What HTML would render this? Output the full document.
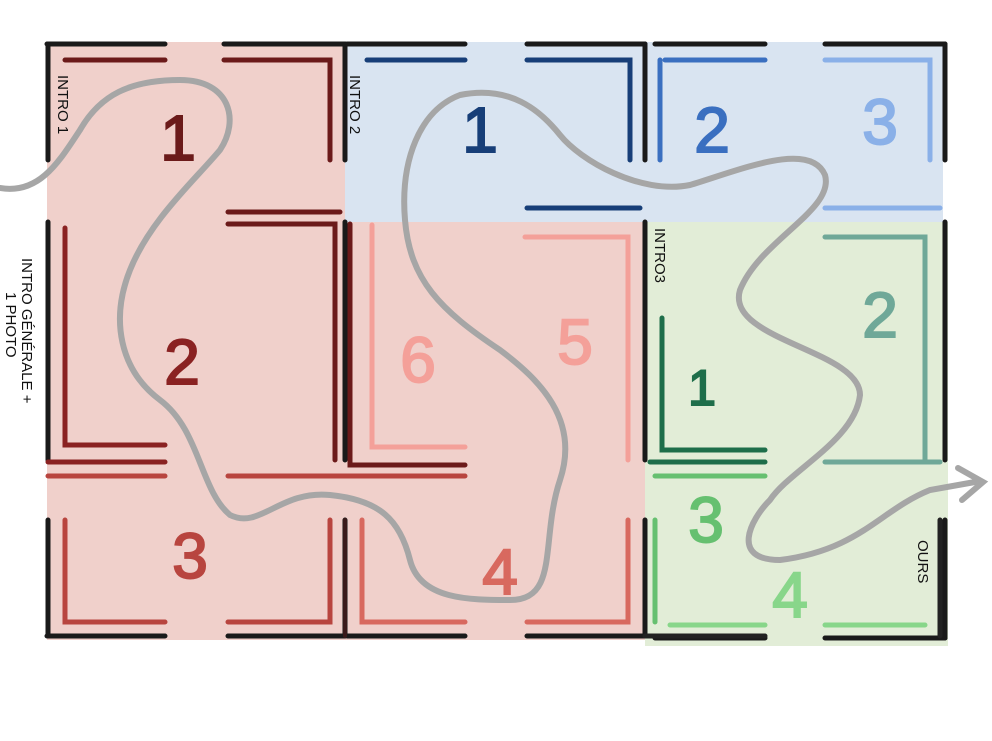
<!DOCTYPE html>
<html><head><meta charset="utf-8"><style>html,body{margin:0;padding:0;background:#fff}svg{display:block}</style></head>
<body>
<svg width="992" height="741" viewBox="0 0 992 741" xmlns="http://www.w3.org/2000/svg" font-family="Liberation Sans, sans-serif">
<rect x="47" y="42" width="298" height="598" fill="#f0d0cb"/>
<rect x="345" y="222" width="300" height="418" fill="#f0d0cb"/>
<rect x="345" y="42" width="598" height="180" fill="#d9e4f1"/>
<rect x="645" y="222" width="303" height="424" fill="#e2edd7"/>

<g stroke-linecap="round" fill="none">
<g stroke="#1a1a1a" stroke-width="5">
<path d="M47 44H165M224 44H345M347 44H465M527 44H645M655 44H765M825 44H945"/>
<path d="M47 636H165M228 636H345M347 636H465M527 636H645M655 638H765M825 638H945"/>
<path d="M48 44V160M48 222V460M48 520V636M945 44V160M945 222V460M945 520V638"/>
<path d="M345 44V160M645 44V160M645 222V460M645 520V636M345 222V460M345 520V636"/>
</g>
<g stroke="#6b1a1a" stroke-width="5">
<path d="M65 60H165M224 60H330V160"/>
<path d="M228 212H340M228 224H335V460M350 224V465H465"/>
</g>
<g stroke="#8a2222" stroke-width="5">
<path d="M65 228V445H165M48 462H165"/>
</g>
<g stroke="#b8453f" stroke-width="5">
<path d="M48 476H165M65 520V622H165M330 520V622H228M228 476H335M335 476H465"/>
</g>
<g stroke="#3a1a1a" stroke-width="4"><path d="M345 520V636"/></g>
<g stroke="#f4a099" stroke-width="5">
<path d="M372 225V447H465M525 237H628V460"/>
</g>
<g stroke="#d8695f" stroke-width="5">
<path d="M362 520V622H465M527 622H628V520"/>
</g>
<g stroke="#173e78" stroke-width="5">
<path d="M367 60H465M527 60H630V160M527 208H640"/>
</g>
<g stroke="#3a6fc0" stroke-width="5"><path d="M660 60V160M665 60H765"/></g>
<g stroke="#8ab0e8" stroke-width="5"><path d="M825 60H930V160M825 208H940"/></g>
<g stroke="#1e6e4a" stroke-width="5"><path d="M662 318V450H765M650 462H765"/></g>
<g stroke="#6fa898" stroke-width="5"><path d="M825 237H925V460M825 462H940"/></g>
<g stroke="#66c070" stroke-width="5"><path d="M655 476H765M655 520V622"/></g>
<g stroke="#88d68a" stroke-width="5"><path d="M670 625H765M825 625H925"/></g>
<g stroke="#222" stroke-width="5"><path d="M940 520V636M645 636H765"/></g>
<path stroke="#a6a6a6" stroke-width="6" d="M0 188C40 195 60 160 80 130C100 95 130 80 180 80C230 80 240 120 220 150C195 180 150 220 130 270C110 320 120 370 160 400C200 430 200 490 230 515C260 530 280 490 330 495C380 500 400 520 410 560C420 600 470 600 510 600C560 600 540 540 560 480C580 420 540 380 500 350C440 310 410 280 405 220C400 160 420 110 460 95C510 85 540 110 560 135C580 160 640 195 690 185C740 170 810 140 825 175C835 210 760 240 740 290C725 340 860 350 860 395C855 440 790 470 770 500C750 520 730 560 780 560C860 550 880 510 930 490L975 482"/>
<path stroke="#a6a6a6" stroke-width="6" d="M958 468L983 482L962 500"/>
</g>
<g font-size="64" text-anchor="middle" stroke-width="2">
<text x="178" y="160" fill="#6b1a1a" stroke="#6b1a1a">1</text>
<text x="182" y="384" fill="#8a2222" stroke="#8a2222">2</text>
<text x="190" y="578" fill="#b8453f" stroke="#b8453f">3</text>
<text x="500" y="594" fill="#d8695f" stroke="#d8695f">4</text>
<text x="575" y="364" fill="#f4a099" stroke="#f4a099">5</text>
<text x="418" y="382" fill="#f4a099" stroke="#f4a099">6</text>
<text x="480" y="152" fill="#173e78" stroke="#173e78">1</text>
<text x="712" y="152" fill="#3a6fc0" stroke="#3a6fc0">2</text>
<text x="880" y="144" fill="#8ab0e8" stroke="#8ab0e8">3</text>
<text x="702" y="405" fill="#1e6e4a" stroke="#1e6e4a" font-size="50">1</text>
<text x="880" y="337" fill="#6fa898" stroke="#6fa898">2</text>
<text x="706" y="542" fill="#66c070" stroke="#66c070">3</text>
<text x="790" y="617" fill="#88d68a" stroke="#88d68a">4</text>
</g>
<g font-size="15" fill="#111">
<text transform="translate(58,75) rotate(90)">INTRO 1</text>
<text transform="translate(350,75) rotate(90)">INTRO 2</text>
<text transform="translate(655,228) rotate(90)">INTRO3</text>
<text transform="translate(22,258) rotate(90)">INTRO GÉNÉRALE +</text>
<text transform="translate(6,292) rotate(90)">1 PHOTO</text>
<text transform="translate(918,540) rotate(90)">OURS</text>
</g>
</svg>
</body></html>
